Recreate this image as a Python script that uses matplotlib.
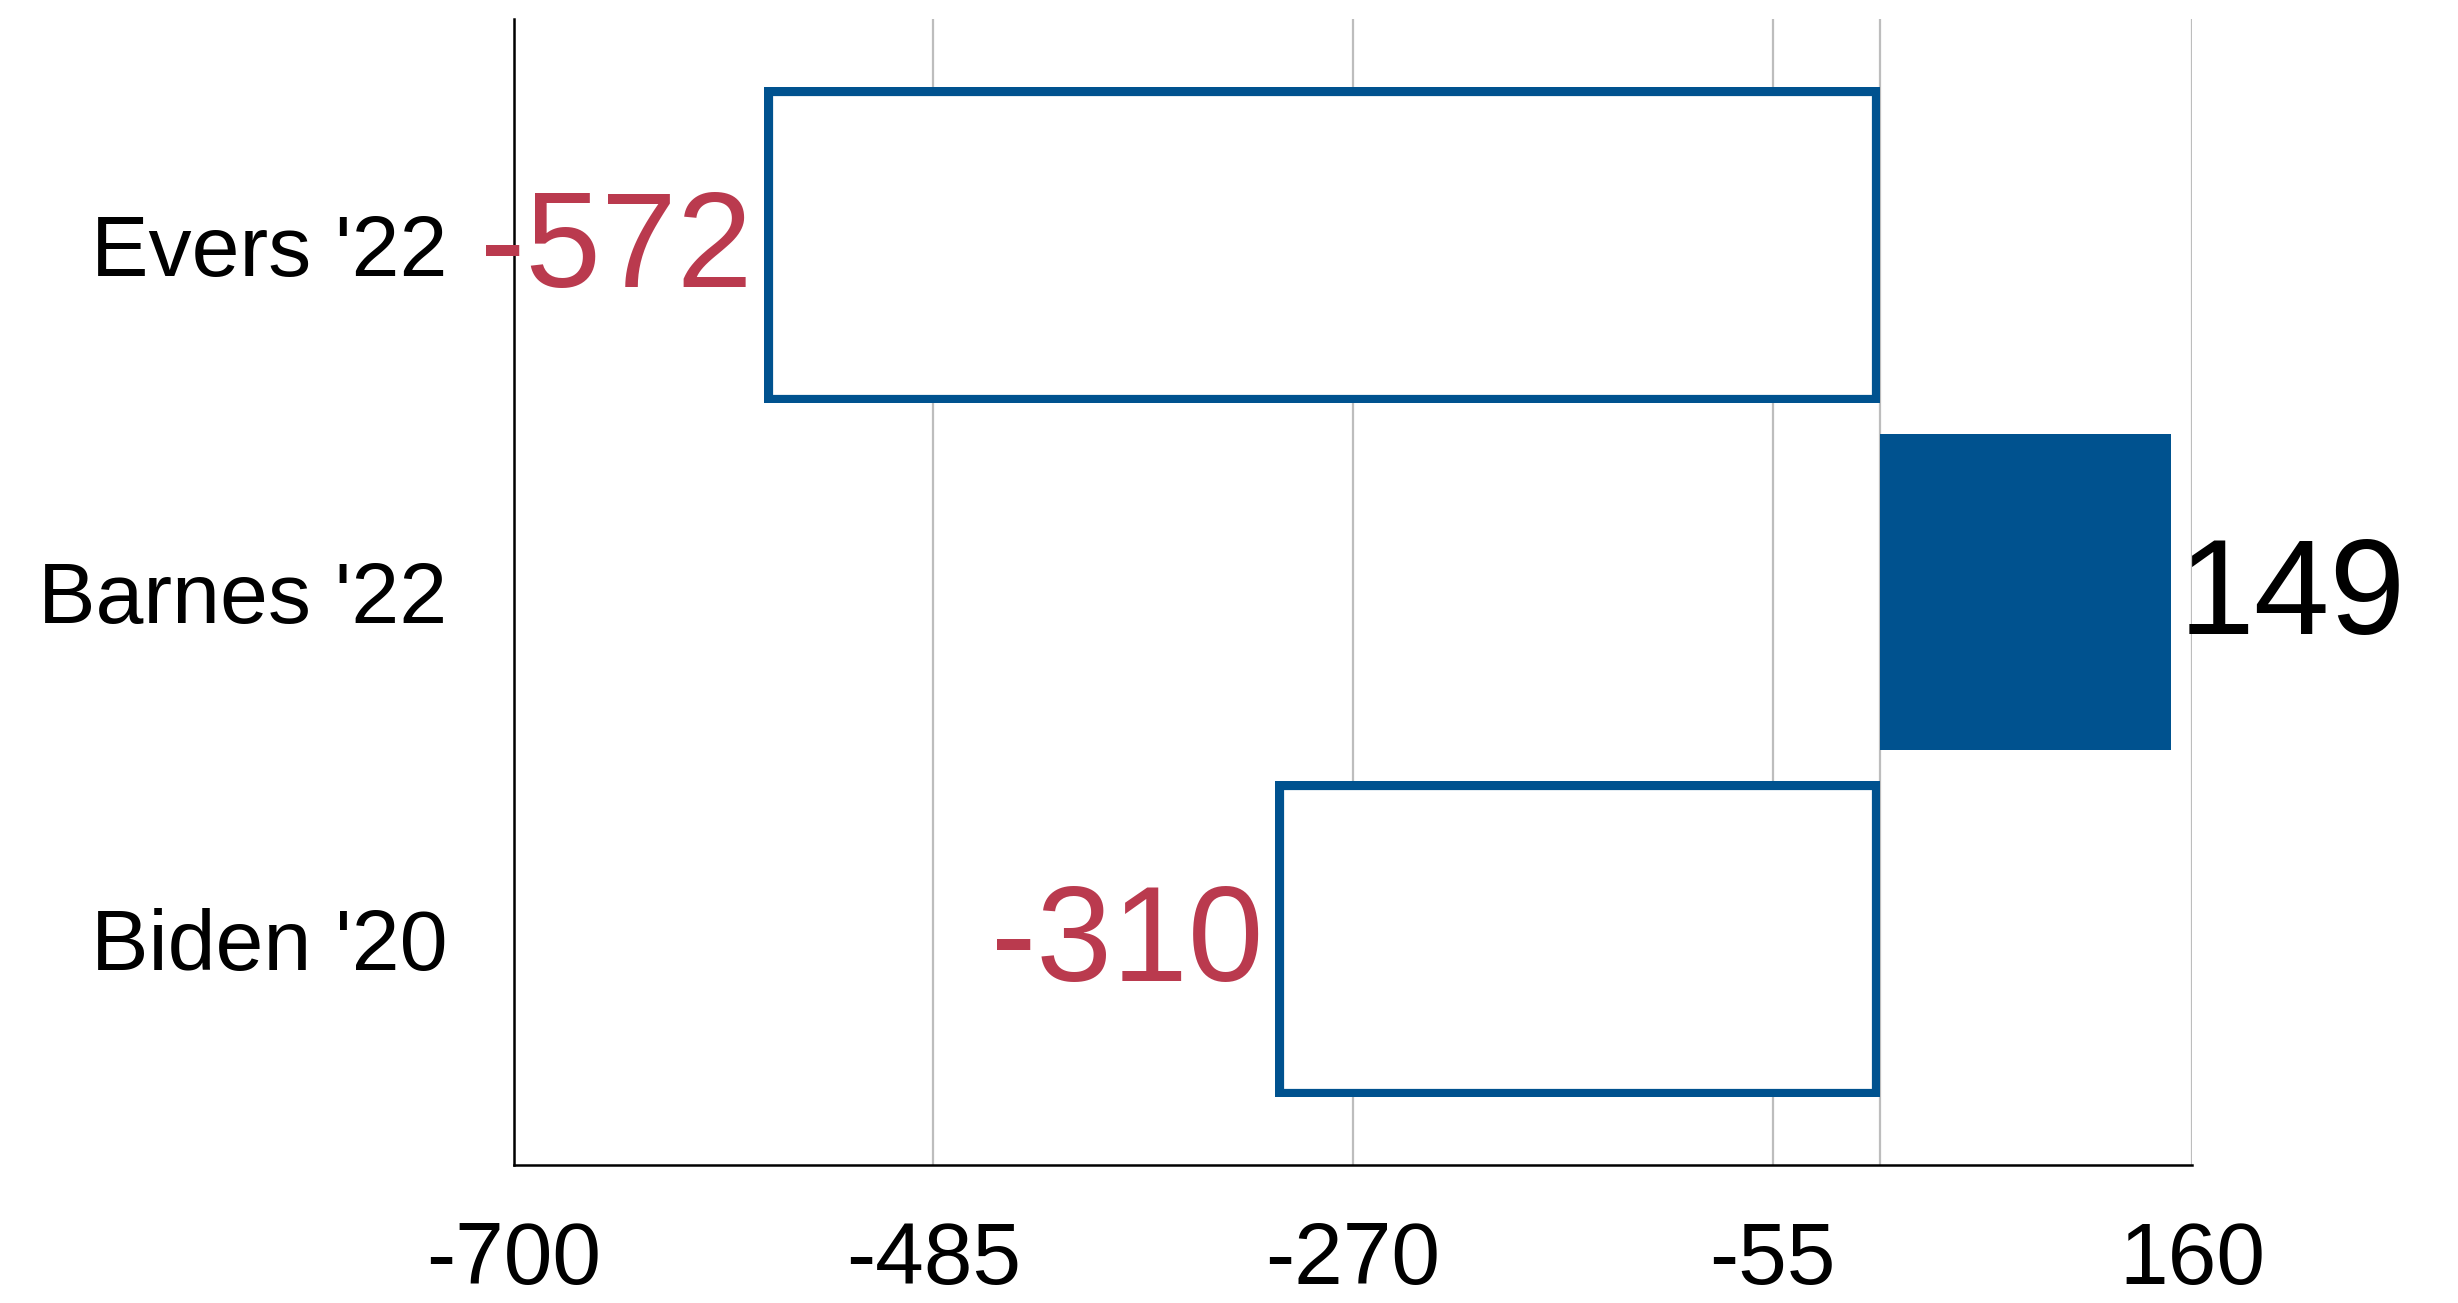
import matplotlib
matplotlib.use("Agg")
import matplotlib.pyplot as plt

# --- data ---
candidates = ["Evers '22", "Barnes '22", "Biden '20"]
margins = [-572, 149, -310]
filled = [False, True, False]
x_ticks = [-700, -485, -270, -55, 160]

BLUE = "#00528F"
RED = "#BA3A4E"
GRID = "#BDBDBD"

plt.rcParams["font.family"] = ["Liberation Sans", "DejaVu Sans"]

fig = plt.figure(figsize=(12.29, 6.515), dpi=200)
ax = fig.add_axes([0.2091, 0.1059, 0.8918 - 0.2091, 0.9854 - 0.1059])

ypos = list(range(len(candidates)))
bars = ax.barh(ypos, margins, height=0.91, zorder=3)

for rect, is_filled in zip(bars, filled):
    if is_filled:
        rect.set_facecolor(BLUE)
        rect.set_edgecolor("none")
    else:
        rect.set_facecolor("white")
        rect.set_edgecolor(BLUE)
        rect.set_linewidth(6.2)
        rect.set_clip_path(rect)  # keep the stroke inside the bar

for y, val in zip(ypos, margins):
    if val < 0:
        ax.text(val - 6, y - 0.02, f"{val}", ha="right", va="center_baseline",
                fontsize=49, color=RED, zorder=4)
    else:
        ax.text(val + 4, y - 0.02, f"{val}", ha="left", va="center_baseline",
                fontsize=49, color="black", zorder=4)

ax.set_xlim(-700, 160)
ax.set_ylim(2.65, -0.65)
ax.set_xticks(x_ticks)
ax.set_xticklabels([str(t) for t in x_ticks])
ax.set_yticks(ypos)
ax.set_yticklabels(candidates)

ax.tick_params(axis="x", length=0, labelsize=31.5, pad=20)
ax.tick_params(axis="y", length=0, labelsize=31, pad=24)

ax.grid(axis="x", color=GRID, linewidth=0.8, zorder=0)
ax.axvline(0, color=GRID, linewidth=0.8, zorder=1)
ax.set_axisbelow(True)

for side in ["top", "right"]:
    ax.spines[side].set_visible(False)
for side in ["left", "bottom"]:
    ax.spines[side].set_color("black")
    ax.spines[side].set_linewidth(0.9)

fig.savefig("out.png", dpi=200)
plt.close(fig)
